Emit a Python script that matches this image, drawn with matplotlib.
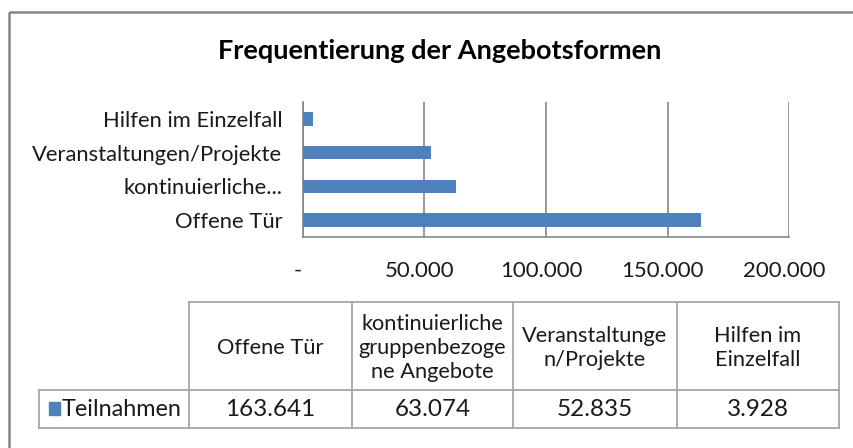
import numpy as np
import matplotlib
matplotlib.use("Agg")
import matplotlib.pyplot as plt
import matplotlib.transforms as mtransforms
from matplotlib.ticker import FuncFormatter
from matplotlib.patches import Rectangle

# daten
kategorien = ["Offene Tür", "kontinuierliche gruppenbezogene Angebote",
              "Veranstaltungen/Projekte", "Hilfen im Einzelfall"]
achsen_labels = ["Offene Tür", "kontinuierliche...",
                 "Veranstaltungen/Projekte", "Hilfen im Einzelfall"]
tabellen_kopf = ["Offene Tür", "kontinuierliche\ngruppenbezoge\nne Angebote",
                 "Veranstaltunge\nn/Projekte", "Hilfen im\nEinzelfall"]
teilnahmen = [163641, 63074, 52835, 3928]
serie = "Teilnahmen"
titel = "Frequentierung der Angebotsformen"
x_ticks = [0, 50000, 100000, 150000, 200000]

blau = "#4F81BD"
grau = "#868686"
tabellen_grau = "#A6A6A6"
text_farbe = "#1a1a1a"

plt.rcParams['font.family'] = ['Lato', 'DejaVu Sans']

W, H = 854, 448
fig = plt.figure(figsize=(W / 100, H / 100), dpi=100)


def deutsch(v):
    if v == 0:
        return "-"
    return f"{int(v):,}".replace(",", ".")


# overlay in pixel koordinaten (rahmen + tabelle)
ov = fig.add_axes([0, 0, 1, 1])
ov.set_xlim(0, W)
ov.set_ylim(H, 0)
ov.axis('off')
ov.add_patch(Rectangle((9, 12), W + 20, H + 20, fill=False, edgecolor=grau, lw=1.8))

fig.text(440 / W, 1 - 51 / H, titel, ha='center', va='center',
         fontsize=19.5, fontweight='bold', color='black')

# balkendiagramm
x0, x1, y0, y1 = 303, 789, 102, 237
ax = fig.add_axes([x0 / W, 1 - y1 / H, (x1 - x0) / W, (y1 - y0) / H])
pos = np.arange(len(teilnahmen))
ax.barh(pos, teilnahmen, height=0.4, color=blau, zorder=3)
ax.set_ylim(-0.5, len(teilnahmen) - 0.5)
ax.set_xlim(x_ticks[0], x_ticks[-1])
ax.set_xticks(x_ticks)
ax.xaxis.set_major_formatter(FuncFormatter(lambda v, p: deutsch(v)))
ax.set_yticks(pos)
ax.set_yticklabels(achsen_labels)
ax.grid(axis='x', color=grau, lw=1.2, zorder=0)
for s in ['top', 'right']:
    ax.spines[s].set_visible(False)
for s in ['left', 'bottom']:
    ax.spines[s].set_color(grau)
    ax.spines[s].set_linewidth(1.2)
ax.tick_params(axis='x', length=0, pad=17, labelsize=16, labelcolor=text_farbe)
ax.tick_params(axis='y', length=0, pad=15, labelsize=15.8, labelcolor=text_farbe)
verschiebung = mtransforms.ScaledTranslation(-5 / 100, 0, fig.dpi_scale_trans)
for lab in ax.get_xticklabels():
    lab.set_transform(lab.get_transform() + verschiebung)

# datentabelle
spalten = [189, 352, 513, 677, 839]
t_oben, t_mitte, t_unten = 302, 390, 428
label_links = 39
lw_t = 1.3
ov.plot([spalten[0], spalten[-1]], [t_oben, t_oben], color=tabellen_grau, lw=lw_t)
ov.plot([label_links, spalten[-1]], [t_mitte, t_mitte], color=tabellen_grau, lw=lw_t)
ov.plot([label_links, spalten[-1]], [t_unten, t_unten], color=tabellen_grau, lw=lw_t)
for xs in spalten:
    ov.plot([xs, xs], [t_oben, t_unten], color=tabellen_grau, lw=lw_t)
ov.plot([label_links, label_links], [t_mitte, t_unten], color=tabellen_grau, lw=lw_t)

for i, kopf in enumerate(tabellen_kopf):
    xc = (spalten[i] + spalten[i + 1]) / 2
    ov.text(xc, (t_oben + t_mitte) / 2 + 2, kopf, ha='center', va='center',
            fontsize=15.7, color=text_farbe, linespacing=1.22)
    ov.text(xc, (t_mitte + t_unten) / 2 + 1, deutsch(teilnahmen[i]), ha='center',
            va='center', fontsize=17.5, color=text_farbe)

ov.add_patch(Rectangle((49, 402), 11, 13, color=blau))
ov.text(62, (t_mitte + t_unten) / 2 + 1, serie, ha='left', va='center',
        fontsize=16.8, color=text_farbe)

fig.savefig("out.png", dpi=100)
